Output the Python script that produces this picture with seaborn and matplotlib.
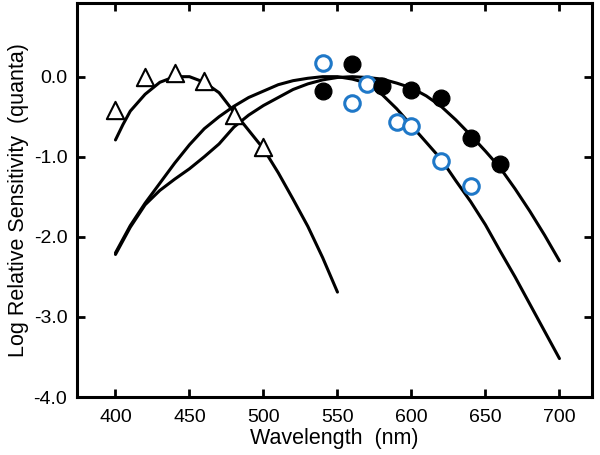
import pandas as pd
import seaborn as sns
import matplotlib
matplotlib.use("Agg")
import matplotlib.pyplot as plt

# template curves (wavelength nm, log sensitivity)
wl_s = [400, 405, 410, 420, 430, 440, 450, 460, 470, 480, 490, 500, 510, 520, 530, 540, 550]
s_curve = [-0.79, -0.6, -0.43, -0.22, -0.07, 0.0, 0.0, -0.07, -0.2, -0.44, -0.67, -0.9, -1.2, -1.53, -1.87, -2.26, -2.69]

wl_long = [400, 410, 420, 430, 440, 450, 460, 470, 480, 490, 500, 510, 520, 530, 540, 550,
           560, 570, 580, 590, 600, 610, 620, 630, 640, 650, 660, 670, 680, 690, 700]
m_curve = [-2.2, -1.86, -1.58, -1.33, -1.08, -0.85, -0.65, -0.5, -0.37, -0.26, -0.18, -0.1, -0.05, -0.02, 0.0, 0.0,
           -0.03, -0.08, -0.22, -0.4, -0.61, -0.82, -1.03, -1.3, -1.56, -1.85, -2.18, -2.5, -2.84, -3.18, -3.52]
l_curve = [-2.22, -1.88, -1.6, -1.42, -1.28, -1.15, -1.0, -0.84, -0.63, -0.48, -0.36, -0.26, -0.16, -0.09, -0.04, -0.01,
           0.0, -0.01, -0.03, -0.08, -0.14, -0.24, -0.37, -0.54, -0.73, -0.93, -1.14, -1.4, -1.68, -1.98, -2.3]

# measured points
tri_wl = [400, 420, 440, 460, 480, 500]
tri_val = [-0.42, 0.0, 0.05, -0.06, -0.48, -0.88]

open_wl = [540, 560, 570, 590, 600, 620, 640]
open_val = [0.17, -0.33, -0.09, -0.57, -0.62, -1.05, -1.37]

fill_wl = [540, 560, 580, 600, 620, 640, 660]
fill_val = [-0.18, 0.16, -0.12, -0.17, -0.27, -0.76, -1.09]

sns.set_style("ticks")
plt.rcParams['font.family'] = ['Liberation Sans', 'DejaVu Sans']
for k in ['text.color', 'axes.labelcolor', 'xtick.color', 'ytick.color', 'axes.edgecolor']:
    plt.rcParams[k] = 'black'

fig = plt.figure(figsize=(6, 4.55), dpi=100)
ax = fig.add_axes([77/600, 58/455, 515/600, 394/455])

curves = [(wl_s, s_curve), (wl_long, m_curve), (wl_long, l_curve)]
for xs, ys in curves:
    sns.lineplot(x=xs, y=ys, color='black', lw=2.2, sort=False, estimator=None, ax=ax)

sns.scatterplot(x=tri_wl, y=tri_val, marker='^', s=155, facecolor='white', edgecolor='black', linewidth=1.5, ax=ax, zorder=3)
sns.scatterplot(x=open_wl, y=open_val, marker='o', s=125, facecolor='white', edgecolor='#1f78c8', linewidth=2.2, ax=ax, zorder=3)
sns.scatterplot(x=fill_wl, y=fill_val, marker='o', s=145, color='black', edgecolor='black', ax=ax, zorder=3)

ax.set_xlim(374, 722)
ax.set_ylim(-4.0, 0.92)
ax.set_xticks([400, 450, 500, 550, 600, 650, 700])
ax.set_yticks([0.0, -1.0, -2.0, -3.0, -4.0])
ax.set_yticklabels(['0.0', '-1.0', '-2.0', '-3.0', '-4.0'])
ax.tick_params(direction='in', length=6, width=2, labelsize=14, top=True, right=True, pad=7)
ax.tick_params(axis='x', pad=9)
for sp in ax.spines.values():
    sp.set_linewidth(2.2)
    sp.set_visible(True)

ax.set_xlabel("Wavelength  (nm)", fontsize=15.5, labelpad=1)
ax.set_ylabel("Log Relative Sensitivity  (quanta)", fontsize=15.5, labelpad=3)

fig.savefig("out.png", dpi=100)
